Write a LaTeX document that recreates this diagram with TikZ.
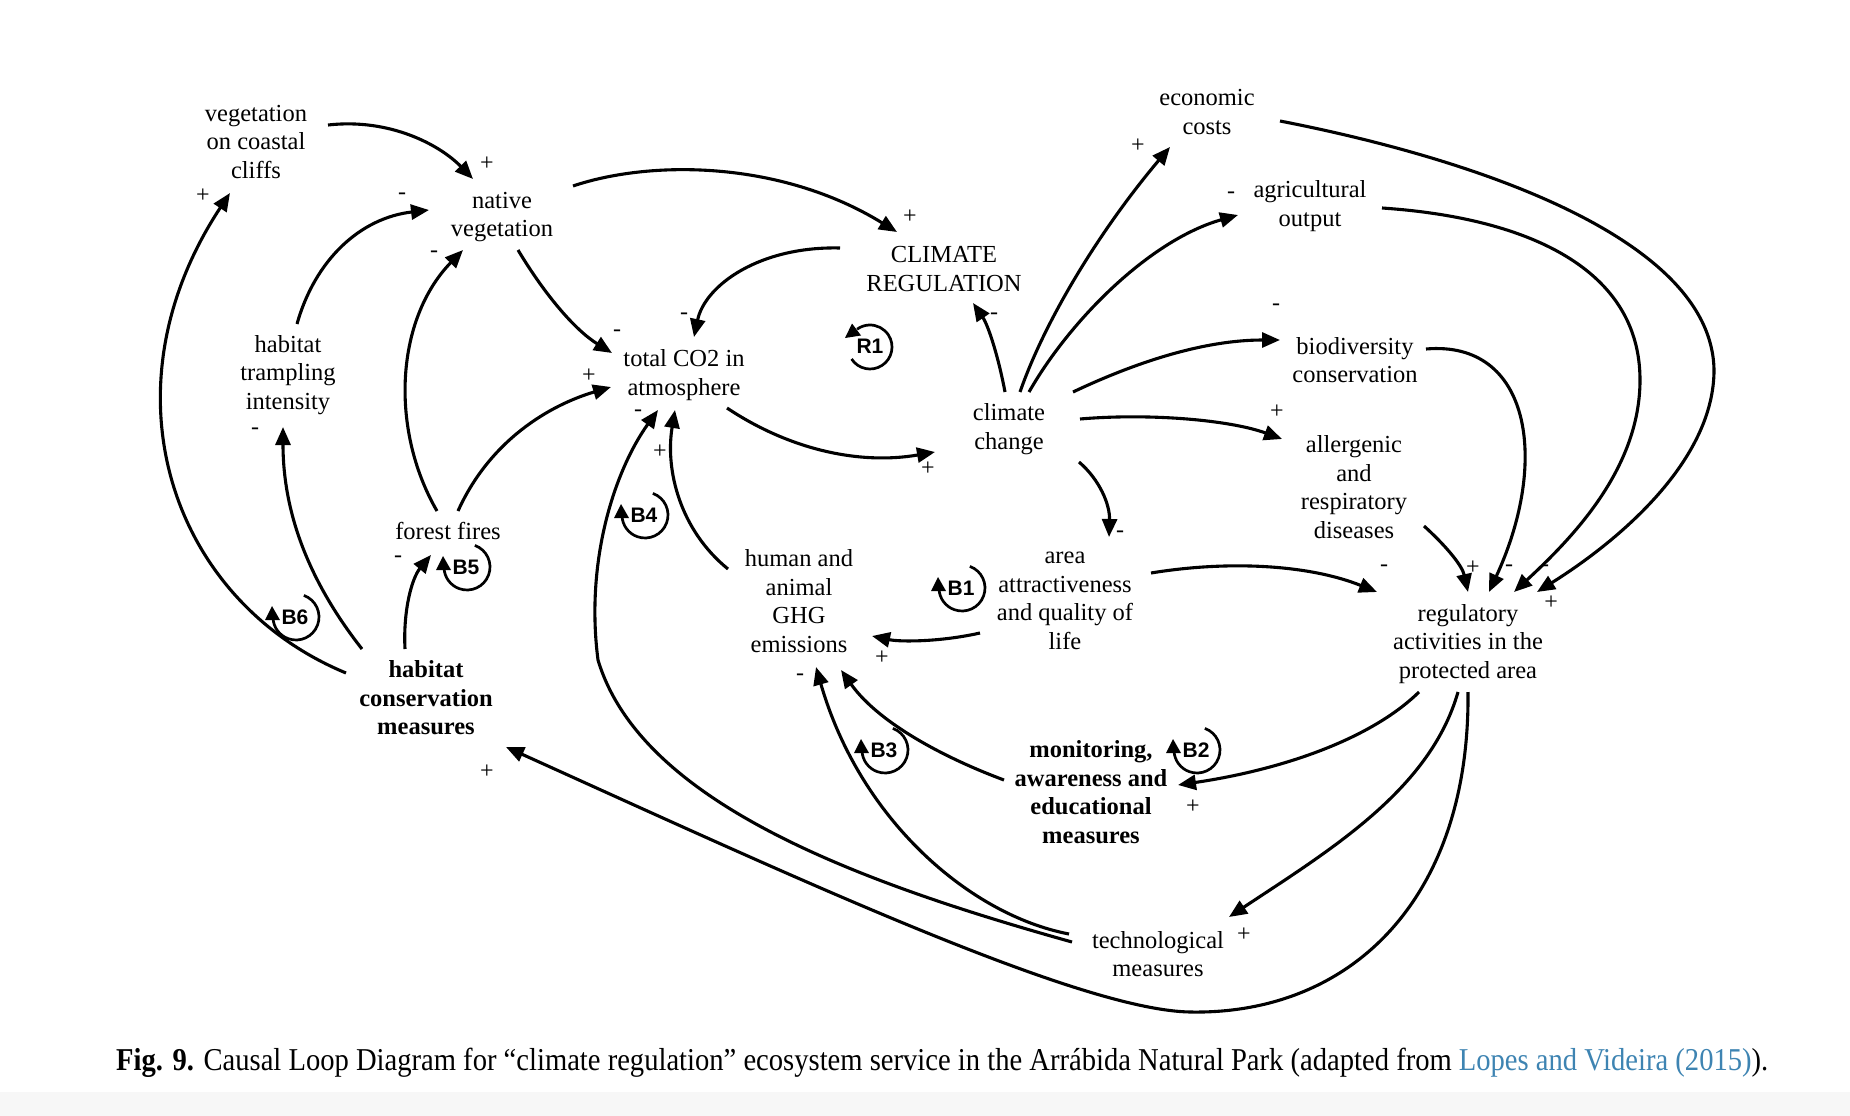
\documentclass[tikz,border=0pt]{standalone}
\usepackage{fontspec}
\setmainfont{Liberation Serif}
\newfontfamily\loopfont{Liberation Sans}
\usepackage{graphicx}
\usetikzlibrary{arrows.meta,calc}
\definecolor{linkblue}{RGB}{62,132,178}
\begin{document}
\begin{tikzpicture}[x=1pt,y=1pt,yscale=-1,
  var/.style={align=center,font=\fontsize{24.5}{28.5}\selectfont,inner sep=0pt},
  bvar/.style={align=center,font=\fontsize{24.5}{28.5}\selectfont\bfseries,inner sep=0pt},
  arr/.style={line width=3.1pt,-{Triangle[length=18pt,width=15pt]}},
  sgn/.style={font=\fontsize{24}{24}\selectfont,inner sep=0pt},
  loopic/.style={line width=2.7pt},
  looptip/.style={fill=black,draw=none},
  looplab/.style={font=\loopfont\bfseries\fontsize{21}{21}\selectfont,inner sep=0pt}]
\useasboundingbox (0,0) rectangle (1850,1116);
\fill[black!3] (0,1092) rectangle (1850,1116);

% variables
\node[var] (cliffs) at (256,142) {vegetation\\on coastal\\cliffs};
\node[var] (nv) at (502,217) {native\\vegetation};
\node[var] (tr) at (288,375) {habitat\\trampling\\intensity};
\node[var] (co2) at (684,375) {total CO2 in\\atmosphere};
\node[var] (cr) at (944,269) {CLIMATE\\REGULATION};
\node[var] (cc) at (1009,429) {climate\\change};
\node[var] (econ) at (1207,112) {economic\\costs};
\node[var] (agri) at (1310,206) {agricultural\\output};
\node[var] (bio) at (1355,360) {biodiversity\\conservation};
\node[var] (allerg) at (1354,487) {allergenic\\and\\respiratory\\diseases};
\node[var] (reg) at (1468,644) {regulatory\\activities in the\\protected area};
\node[var] (area) at (1065,601) {area\\attractiveness\\and quality of\\life};
\node[var] (ghg) at (799,601) {human and\\animal\\GHG\\emissions};
\node[bvar] (mon) at (1091,792) {monitoring,\\awareness and\\educational\\measures};
\node[var] (tech) at (1158,954) {technological\\measures};
\node[var] (ff) at (448,531) {forest fires};
\node[bvar] (hcm) at (426,698) {habitat\\conservation\\measures};

% connectors
\draw[arr] ($(cliffs)+(72,-17)$) .. controls (390,118) and (440,145) .. ($(nv)+(-29,-38)$);
\draw[arr] ($(nv)+(71,-31)$) .. controls (650,160) and (780,160) .. ($(cr)+(-47,-37)$);
\draw[arr] ($(cr)+(-104,-21)$) .. controls (760,246) and (705,285) .. ($(co2)+(10,-38)$);
\draw[arr] ($(nv)+(16,33)$) .. controls (545,295) and (575,330) .. ($(co2)+(-72,-22)$);
\draw[arr] ($(tr)+(9,-51)$) .. controls (315,260) and (360,218) .. ($(nv)+(-73,-7)$);
\draw[arr] ($(ff)+(-11,-20)$) .. controls (390,430) and (395,320) .. ($(nv)+(-39,33)$);
\draw[arr] ($(ff)+(10,-20)$) .. controls (490,440) and (550,405) .. ($(co2)+(-73,12)$);
\draw[arr] ($(hcm)+(-64,-49)$) .. controls (300,570) and (283,500) .. ($(tr)+(-5,52)$);
\draw[arr] ($(hcm)+(-80,-25)$) .. controls (170,600) and (100,390) .. ($(cliffs)+(-26,51)$);
\draw[arr] ($(hcm)+(-21,-49)$) .. controls (403,610) and (412,578) .. ($(ff)+(-17,24)$);
\draw[arr] ($(ghg)+(-71,-32)$) .. controls (680,530) and (665,470) .. ($(co2)+(-9,35)$);
\draw[arr] ($(co2)+(43,33)$) .. controls (790,450) and (860,465) .. ($(cc)+(-74,23)$);
\draw[arr] ($(cc)+(-4,-37)$) .. controls (998,355) and (988,325) .. ($(cr)+(29,34)$);
\draw[arr] ($(cc)+(11,-37)$) .. controls (1045,320) and (1100,230) .. ($(econ)+(-37,35)$);
\draw[arr] ($(cc)+(20,-37)$) .. controls (1070,320) and (1150,240) .. ($(agri)+(-72,9)$);
\draw[arr] ($(cc)+(64,-37)$) .. controls (1130,365) and (1200,340) .. ($(bio)+(-75,-20)$);
\draw[arr] ($(cc)+(71,-10)$) .. controls (1150,413) and (1230,420) .. ($(allerg)+(-72,-48)$);
\draw[arr] ($(cc)+(70,33)$) .. controls (1100,480) and (1110,505) .. ($(area)+(44,-64)$);
\draw[arr] ($(area)+(-85,32)$) .. controls (940,642) and (900,642) .. ($(ghg)+(73,35)$);
\draw[arr] ($(area)+(86,-28)$) .. controls (1230,560) and (1310,565) .. ($(reg)+(-91,-52)$);
\draw[arr] ($(allerg)+(70,39)$) .. controls (1445,545) and (1462,565) .. ($(reg)+(0,-52)$);
\draw[arr] ($(bio)+(71,-11)$) .. controls (1530,340) and (1550,460) .. ($(reg)+(21,-52)$);
\draw[arr] ($(agri)+(72,2)$) .. controls (1530,218) and (1640,270) .. (1640,380)
   .. controls (1640,470) and (1570,540) .. ($(reg)+(46,-52)$);
\draw[arr] ($(econ)+(73,9)$) .. controls (1480,160) and (1712,240) .. (1714,370)
   .. controls (1714,460) and (1620,540) .. ($(reg)+(69,-52)$);
\draw[arr] ($(reg)+(-49,48)$) .. controls (1370,740) and (1280,770) .. ($(mon)+(87,-7)$);
\draw[arr] ($(mon)+(-87,-12)$) .. controls (950,760) and (880,725) .. ($(ghg)+(42,69)$);
\draw[arr] ($(reg)+(-10,48)$) .. controls (1430,790) and (1330,850) .. ($(tech)+(71,-37)$);
\draw[arr] ($(reg)+(0,48)$) .. controls (1470,900) and (1350,1015) .. (1190,1012)
   .. controls (1080,1010) and (800,880) .. ($(hcm)+(80,49)$);
\draw[arr] ($(tech)+(-89,-20)$) .. controls (970,915) and (860,820) .. ($(ghg)+(17,66)$);
\draw[arr] ($(tech)+(-86,-12)$) .. controls (850,880) and (640,800) .. (598,660)
   .. controls (585,560) and (615,470) .. ($(co2)+(-26,35)$);

% polarity signs
\node[sgn] (s1) at (487,164) {+};
\node[sgn] (s2) at (203,196) {+};
\node[sgn] (s3) at (402,196) {-};
\node[sgn] (s4) at (434,254) {-};
\node[sgn] (s5) at (617,333) {-};
\node[sgn] (s6) at (589,376) {+};
\node[sgn] (s7) at (684,316) {-};
\node[sgn] (s8) at (910,217) {+};
\node[sgn] (s9) at (994,316) {-};
\node[sgn] (s10) at (1138,146) {+};
\node[sgn] (s11) at (1231,195) {-};
\node[sgn] (s12) at (1276,307) {-};
\node[sgn] (s13) at (1277,412) {+};
\node[sgn] (s14) at (928,469) {+};
\node[sgn] (s15) at (1120,534) {-};
\node[sgn] (s16) at (638,413) {-};
\node[sgn] (s17) at (660,452) {+};
\node[sgn] (s18) at (255,431) {-};
\node[sgn] (s19) at (398,559) {-};
\node[sgn] (s20) at (882,658) {+};
\node[sgn] (s21) at (800,677) {-};
\node[sgn] (s22) at (1193,807) {+};
\node[sgn] (s23) at (1384,568) {-};
\node[sgn] (s24) at (1473,568) {+};
\node[sgn] (s25) at (1509,568) {-};
\node[sgn] (s26) at (1545,568) {-};
\node[sgn] (s27) at (1551,603) {+};
\node[sgn] (s28) at (1244,935) {+};
\node[sgn] (s29) at (487,772) {+};

% loop markers (screen coordinates: y grows downwards)
\coordinate (R1c) at (870,347);
\draw[loopic] ($(R1c)+(147:22)$) arc (147:-126:22);
\fill[looptip] ($(R1c)+(-9,-11.5)$) -- ($(R1c)+(-18,-23.5)$) -- ($(R1c)+(-25,-9)$) -- cycle;
\node[looplab] (R1) at (870,346) {R1};
\foreach \nm/\cx/\cy in {B1/962/588,B2/1197/750,B3/885/750,B4/645/515,B5/467/567,B6/296/617}{
  \coordinate (\nm c) at (\cx,\cy);
  \draw[loopic] ($(\nm c)+(-70:23)$) arc (-70:176:23);
  \fill[looptip] ($(\nm c)+(-31,3)$) -- ($(\nm c)+(-16,3)$) -- ($(\nm c)+(-24,-11)$) -- cycle;
  \node[looplab] (\nm) at ($(\nm c)+(-1,0)$) {\nm};
}

% caption
\node[anchor=base west,inner sep=0pt] (cap) at (116,1070) {\resizebox{1652pt}{22.4pt}{\textbf{Fig. 9.} Causal Loop Diagram for “climate regulation” ecosystem service in the Arrábida Natural Park (adapted from \textcolor{linkblue}{Lopes and Videira (2015)}).}};
\end{tikzpicture}
\end{document}
